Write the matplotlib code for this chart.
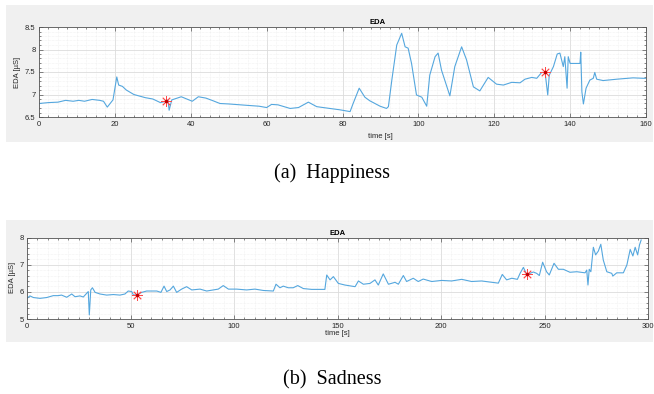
import numpy as np
import matplotlib.pyplot as plt
from matplotlib.patches import Rectangle
from matplotlib.ticker import MultipleLocator

# Happiness EDA trace (time [s], EDA [uS])
t_happy = [0, 2.5, 5, 7, 9, 10.5, 12, 14, 16, 17, 18, 19.5, 20.5, 21, 22, 23, 25, 28, 30,
           32, 33.5, 34, 34.3, 35, 37.5, 40.4, 42, 44, 45.9, 47.7, 50, 54.7, 58, 60, 61.3,
           63, 66.2, 68.4, 71, 73.2, 74.9, 79.3, 82, 82.8, 84.4, 85.9, 87.2, 89.9, 91.6,
           92.1, 93, 94.3, 95.6, 96.5, 97.3, 98.2, 99.5, 100.9, 102.2, 103, 104.4, 105.2,
           106.1, 108.3, 109.6, 111.4, 112.7, 114.5, 116.2, 118.4, 120.6, 122.4, 124.6,
           126.8, 128.1, 129.9, 131.2, 132.5, 133.4, 134.1, 134.5, 135.6, 136.6, 137.3,
           138.2, 138.6, 139.2, 139.5, 140, 142.6, 142.8, 143.1, 143.5, 144.2, 145.2,
           146.1, 146.5, 147, 148.7, 152.3, 156.6, 159.3, 160]
eda_happy = [6.80, 6.82, 6.83, 6.87, 6.85, 6.87, 6.85, 6.89, 6.87, 6.85, 6.72, 6.88, 7.39,
             7.21, 7.18, 7.1, 7.0, 6.93, 6.9, 6.82, 6.85, 6.88, 6.65, 6.88, 6.95, 6.85,
             6.95, 6.92, 6.86, 6.80, 6.79, 6.76, 6.74, 6.71, 6.78, 6.77, 6.69, 6.71, 6.83,
             6.73, 6.71, 6.66, 6.62, 6.8, 7.14, 6.94, 6.86, 6.74, 6.69, 6.73, 7.32, 8.1,
             8.36, 8.06, 8.03, 7.69, 6.99, 6.94, 6.74, 7.43, 7.84, 7.92, 7.54, 6.97, 7.62,
             8.06, 7.77, 7.17, 7.08, 7.38, 7.23, 7.21, 7.27, 7.26, 7.34, 7.38, 7.36, 7.49,
             7.49, 6.99, 7.43, 7.62, 7.9, 7.92, 7.62, 7.84, 7.14, 7.84, 7.69, 7.69, 7.94,
             7.06, 6.79, 7.14, 7.32, 7.36, 7.49, 7.34, 7.31, 7.34, 7.37, 7.36, 7.36]
star_happy_t = [33.6, 133.4]
star_happy_v = [6.85, 7.49]

# Sadness EDA trace
t_sad = [0, 1.4, 3.1, 6.3, 9.5, 12.7, 15, 16.7, 19.2, 21.6, 23.2, 25.6, 27.2, 28.5, 29.6,
         30.1, 30.8, 31.6, 32.9, 35.3, 38.5, 41.7, 44.9, 47.3, 48.9, 50.6, 51.4, 53.3, 55.4,
         57.8, 62.7, 64.7, 66.2, 67.5, 69.1, 70.7, 72.3, 74.7, 77.1, 79.6, 83.6, 86.8, 90,
         92.4, 94.8, 97.3, 101.3, 106.1, 110.1, 114.2, 119, 120.3, 122.2, 123.8, 126.2,
         128.6, 130.8, 133.5, 137.5, 143.9, 144.8, 146.4, 148, 150.4, 153.6, 158.5, 160.1,
         162.5, 165.7, 168.1, 169.7, 172.1, 174.6, 177.8, 179.4, 181.8, 183.4, 186.6, 189,
         191.4, 195.5, 200.3, 205.1, 210, 214.8, 219.6, 224.5, 227.7, 229.6, 231.7, 234.2,
         236.9, 238.2, 239.8, 241.4, 243, 244.6, 246.2, 247.5, 249.1, 251, 252.3, 254.6,
         256.7, 259.1, 262.3, 265.6, 269.6, 270.4, 271.0, 271.6, 272.4, 273.6, 274.7, 276,
         277.2, 278.4, 280.1, 282.5, 283.0, 284.9, 288.1, 289.8, 291.4, 292.7, 293.8, 295,
         295.9, 296.7]
eda_sad = [5.76, 5.85, 5.79, 5.76, 5.79, 5.86, 5.86, 5.88, 5.8, 5.92, 5.82, 5.85, 5.81,
           5.92, 6.01, 5.15, 6.07, 6.15, 5.98, 5.92, 5.88, 5.9, 5.88, 5.92, 6.03, 6.01, 5.88,
           5.9, 5.98, 6.03, 6.03, 5.98, 6.21, 6.01, 6.07, 6.21, 5.98, 6.1, 6.19, 6.07, 6.1,
           6.03, 6.07, 6.1, 6.23, 6.1, 6.1, 6.07, 6.1, 6.05, 6.03, 6.28, 6.15, 6.21, 6.15,
           6.15, 6.23, 6.12, 6.09, 6.09, 6.62, 6.44, 6.56, 6.31, 6.25, 6.19, 6.4, 6.28, 6.31,
           6.44, 6.25, 6.66, 6.28, 6.35, 6.28, 6.6, 6.38, 6.5, 6.38, 6.47, 6.38, 6.42, 6.4,
           6.46, 6.38, 6.4, 6.35, 6.32, 6.64, 6.44, 6.5, 6.46, 6.68, 6.9, 6.64, 6.68, 6.73,
           6.68, 6.6, 7.09, 6.74, 6.62, 7.05, 6.83, 6.83, 6.72, 6.74, 6.7, 6.8, 6.25, 6.83,
           6.74, 7.64, 7.36, 7.5, 7.75, 7.17, 6.74, 6.68, 6.58, 6.7, 6.7, 6.99, 7.56, 7.32,
           7.64, 7.36, 7.73, 7.91]
star_sad_t = [53.3, 241.4]
star_sad_v = [5.9, 6.64]

W, H = 654, 394
fig = plt.figure(figsize=(W / 100, H / 100), dpi=100)
fig.patch.set_facecolor('white')

def px_rect(x0, y0, x1, y1):
    return [x0 / W, 1 - y1 / H, (x1 - x0) / W, (y1 - y0) / H]

# grey MATLAB-like figure panels, drawn behind the axes
for r in (px_rect(6, 5, 653, 142), px_rect(6, 220, 653, 342)):
    fig.patches.append(Rectangle((r[0], r[1]), r[2], r[3], transform=fig.transFigure,
                                 facecolor='#f0f0f0', edgecolor='none', zorder=-5))

line_col = '#55a7de'
txt_col = '#262626'
sans = 'Liberation Sans'

def style(ax, xmaj, xmin, ymaj, ymin):
    ax.set_facecolor('white')
    ax.xaxis.set_major_locator(MultipleLocator(xmaj))
    ax.xaxis.set_minor_locator(MultipleLocator(xmin))
    ax.yaxis.set_major_locator(MultipleLocator(ymaj))
    ax.yaxis.set_minor_locator(MultipleLocator(ymin))
    ax.grid(True, which='major', color='#dcdcdc', lw=0.6)
    ax.grid(True, which='minor', color='#e6e6e6', lw=0.4, ls=(0, (1, 1.5)))
    ax.set_axisbelow(True)
    ax.tick_params(which='both', direction='in', top=True, right=True,
                   colors='#555555', labelcolor=txt_col, labelsize=5.5, width=0.5)
    ax.tick_params(which='major', length=3)
    ax.tick_params(which='minor', length=1.5)
    ax.tick_params(axis='x', pad=3)
    ax.tick_params(axis='y', pad=2.5)
    for lab in ax.get_xticklabels() + ax.get_yticklabels():
        lab.set_fontfamily(sans)
    for s in ax.spines.values():
        s.set_color('#555555')
        s.set_linewidth(0.6)

# (a) Happiness
ax1 = fig.add_axes(px_rect(39, 27, 646, 117), zorder=2)
ax1.plot(t_happy, eda_happy, color=line_col, lw=0.8)
ax1.plot(star_happy_t, star_happy_v, ls='none', marker=(8, 2, 0), ms=7.5, mec='#ff4a4a', mew=0.6)
ax1.plot(star_happy_t, star_happy_v, ls='none', marker='o', ms=1.5, color='#c00000')
ax1.set_xlim(0, 160)
ax1.set_ylim(6.5, 8.5)
style(ax1, 20, 2.5, 0.5, 0.1)
ax1.set_yticks([6.5, 7, 7.5, 8, 8.5])
ax1.set_yticklabels(['6.5', '7', '7.5', '8', '8.5'], fontfamily=sans)
ax1.set_title('EDA', fontsize=5.5, fontweight='bold', family=sans, color='black',
              x=0.558, pad=2)
ax1.set_xlabel('time [s]', fontsize=5.5, family=sans, color=txt_col)
ax1.xaxis.set_label_coords(0.562, -0.183)
ax1.set_ylabel('EDA [µS]', fontsize=5.5, family=sans, color=txt_col)
ax1.yaxis.set_label_coords(-0.030, 0.5)

# (b) Sadness
ax2 = fig.add_axes(px_rect(27, 237.5, 648, 319), zorder=2)
ax2.plot(t_sad, eda_sad, color=line_col, lw=0.8)
ax2.plot(star_sad_t, star_sad_v, ls='none', marker=(8, 2, 0), ms=7.5, mec='#ff4a4a', mew=0.6)
ax2.plot(star_sad_t, star_sad_v, ls='none', marker='o', ms=1.5, color='#c00000')
ax2.set_xlim(0, 300)
ax2.set_ylim(5, 8)
style(ax2, 50, 5, 1, 0.2)
ax2.set_title('EDA', fontsize=5.5, fontweight='bold', family=sans, color='black', pad=2)
ax2.set_xlabel('time [s]', fontsize=5.5, family=sans, color=txt_col)
ax2.xaxis.set_label_coords(0.5, -0.129)
ax2.set_ylabel('EDA [µS]', fontsize=5.5, family=sans, color=txt_col)
ax2.yaxis.set_label_coords(-0.017, 0.515)

# captions
fig.text(332 / W, 1 - 173 / H, '(a)  Happiness', ha='center', va='center',
         family='Liberation Serif', fontsize=14.5)
fig.text(332 / W, 1 - 380 / H, '(b)  Sadness', ha='center', va='center',
         family='Liberation Serif', fontsize=14.5)

fig.savefig('out.png', dpi=100, facecolor='white')
